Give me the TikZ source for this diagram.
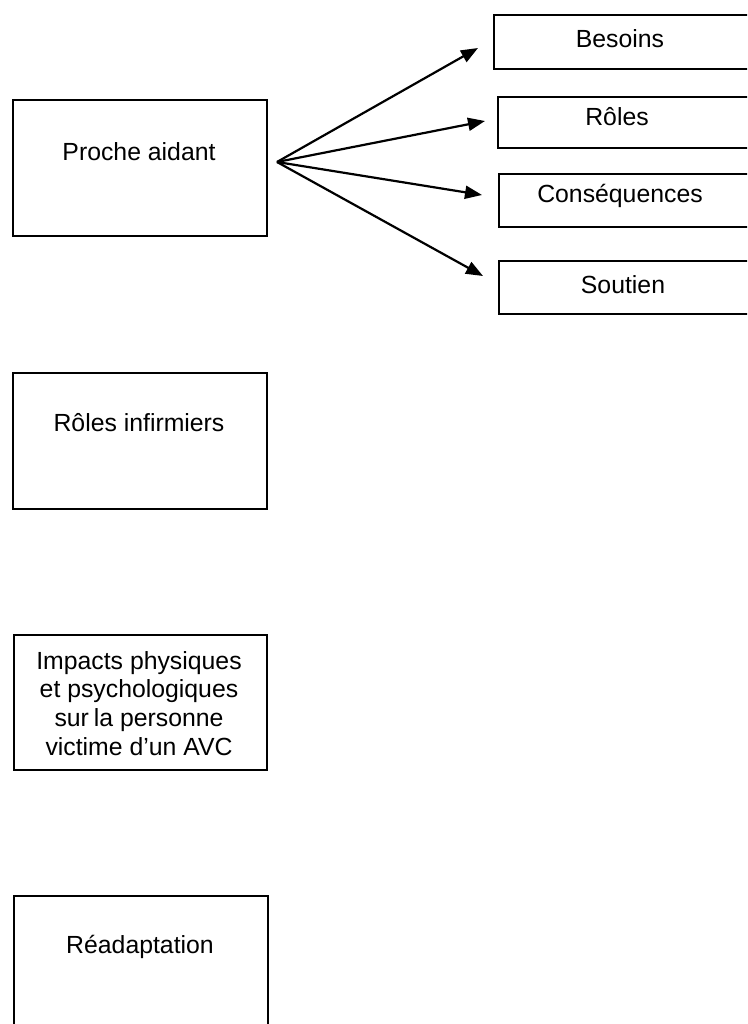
\documentclass[tikz,border=0pt]{standalone}
\usepackage{fontspec}
\setmainfont{Liberation Sans}
\usetikzlibrary{arrows.meta}
\tikzset{
  box/.style={draw=black, line width=2.2pt, fill=none, inner sep=0pt, anchor=north west},
  lbl/.style={font=\fontsize{24.8pt}{28.7pt}\selectfont, inner sep=0pt, anchor=base, text=black},
  conn/.style={draw=black, line width=2.2pt, -{Triangle[length=17pt,width=13pt]}}
}
\begin{document}
\begin{tikzpicture}[x=1pt,y=-1pt]
\useasboundingbox (0,0) rectangle (747,1024);
\clip (0,0) rectangle (747,1024);
% left boxes
\node[box, minimum width=254pt, minimum height=136pt] (pa) at (12,99) {};
\node[lbl] (tpa) at (139,161) {Proche aidant};
\node[box, minimum width=254pt, minimum height=136pt] (ri) at (12,372) {};
\node[lbl] (tri) at (139,431) {Rôles infirmiers};
\node[box, minimum width=253pt, minimum height=135pt] (im) at (13,634) {};
\node[lbl, align=center, anchor=north] (tim) at (139,651) {Impacts physiques\\et psychologiques\\sur\kern-2pt{} la personne\\victime d’un AVC};
\node[box, minimum width=254pt, minimum height=160pt] (re) at (13,895) {};
\node[lbl] (tre) at (140,953) {Réadaptation};
% right boxes
\node[box, minimum width=280pt, minimum height=54pt] (be) at (493,14) {};
\node[lbl] (tbe) at (620,48) {Besoins};
\node[box, minimum width=280pt, minimum height=51pt] (ro) at (497,96) {};
\node[lbl] (tro) at (617,126) {Rôles};
\node[box, minimum width=280pt, minimum height=53pt] (co) at (498,173) {};
\node[lbl] (tco) at (620,203) {Conséquences};
\node[box, minimum width=280pt, minimum height=53pt] (so) at (498,260) {};
\node[lbl] (tso) at (623,293) {Soutien};
% connectors
\coordinate (o) at (277,162);
\coordinate (tb) at (478,48);
\coordinate (tr) at (485,121);
\coordinate (tc) at (482,195);
\coordinate (ts) at (483,276);
\draw[conn] (o) -- (tb);
\draw[conn] (o) -- (tr);
\draw[conn] (o) -- (tc);
\draw[conn] (o) -- (ts);
\end{tikzpicture}
\end{document}
